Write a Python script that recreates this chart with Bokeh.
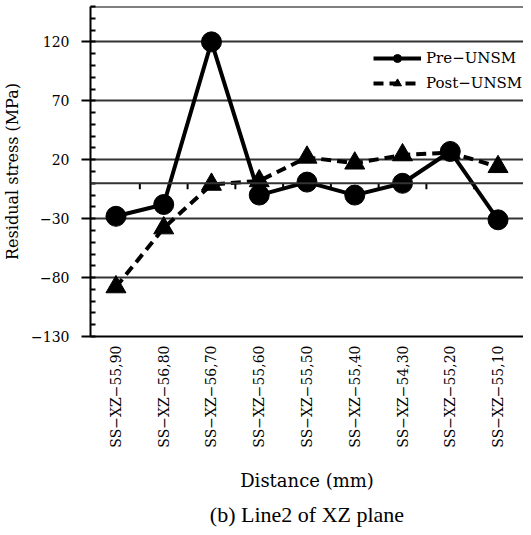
import math
from bokeh.plotting import figure
from bokeh.models import (FactorRange, Range1d, FixedTicker, Span, Legend, LegendItem,
                          Title, ColumnDataSource)
from bokeh.transform import dodge
from bokeh.embed import file_html
from bokeh.resources import INLINE

categories = ["SS\u2212XZ\u221255,90", "SS\u2212XZ\u221256,80", "SS\u2212XZ\u221256,70",
              "SS\u2212XZ\u221255,60", "SS\u2212XZ\u221255,50", "SS\u2212XZ\u221255,40",
              "SS\u2212XZ\u221254,30", "SS\u2212XZ\u221255,20", "SS\u2212XZ\u221255,10"]
pre_unsm = [-28, -18, 120, -10, 1, -10, 0, 27, -31]
post_unsm = [-88, -38, -1, 2, 22, 17, 24, 26, 14]
y_ticks = [-130, -80, -30, 20, 70, 120]
y_tick_labels = ["\u2212130", "\u221280", "\u221230", "20", "70", "120"]
y_min, y_max = -130, 150

SERIF = "DejaVu Serif"

p = figure(width=523, height=532, output_backend="svg", toolbar_location=None,
           x_range=FactorRange(factors=categories, range_padding=0.033,
                               range_padding_units="absolute"),
           y_range=Range1d(y_min, y_max),
           min_border_left=81, min_border_right=0, min_border_top=6,
           min_border_bottom=196)

p.outline_line_color = None
p.background_fill_color = "white"
p.border_fill_color = "white"

# grid
p.xgrid.grid_line_color = None
p.ygrid.grid_line_color = "#333333"
p.ygrid.grid_line_width = 2

# top border
p.add_layout(Span(location=y_max, dimension="width", line_color="black", line_width=2))
# zero line
p.add_layout(Span(location=0, dimension="width", line_color="#333333", line_width=2))

# y axis
ya = p.yaxis[0]
ya.ticker = FixedTicker(ticks=y_ticks, minor_ticks=list(range(y_min, y_max + 1, 10)))
ya.major_label_overrides = {t: l for t, l in zip(y_ticks, y_tick_labels)}
ya.axis_line_color = "black"
ya.axis_line_width = 2
ya.major_tick_line_color = "black"
ya.major_tick_line_width = 2
ya.major_tick_out = 9
ya.major_tick_in = 0
ya.minor_tick_line_color = "black"
ya.minor_tick_line_width = 2
ya.minor_tick_in = 5
ya.minor_tick_out = 0
ya.major_label_standoff = 12
ya.major_label_text_font = SERIF
ya.major_label_text_font_size = "14px"
ya.major_label_text_color = "black"
ya.axis_label = "Residual stress (MPa)"
ya.axis_label_text_font = SERIF
ya.axis_label_text_font_size = "16px"
ya.axis_label_text_font_style = "normal"
ya.axis_label_text_color = "black"
ya.axis_label_standoff = 6

# x axis
xa = p.xaxis[0]
xa.axis_line_color = "black"
xa.axis_line_width = 2
xa.major_tick_line_color = None
xa.major_tick_out = 0
xa.major_tick_in = 0
xa.minor_tick_line_color = None
xa.major_label_orientation = math.pi / 2
xa.major_label_standoff = 9
xa.major_label_text_font = SERIF
xa.major_label_text_font_size = "14px"
xa.major_label_text_color = "black"
xa.axis_label = "Distance (mm)"
xa.axis_label_text_font = SERIF
xa.axis_label_text_font_size = "18px"
xa.axis_label_text_font_style = "normal"
xa.axis_label_text_color = "black"
xa.axis_label_standoff = 19

# tick marks on zero line at category boundaries
bsrc = ColumnDataSource(dict(x=categories[1:], y=[0] * (len(categories) - 1)))
p.ray(x=dodge("x", -0.5, range=p.x_range), y="y", source=bsrc, length=6,
      length_units="screen", angle=-math.pi / 2, line_color="black", line_width=2)

src = ColumnDataSource(dict(x=categories, pre=pre_unsm, post=post_unsm))

l2 = p.line("x", "post", source=src, line_color="black", line_width=4, line_dash="10 6")
s2 = p.scatter("x", "post", source=src, marker="triangle", size=20,
               fill_color="black", line_color="black")
l1 = p.line("x", "pre", source=src, line_color="black", line_width=4)
s1 = p.scatter("x", "pre", source=src, marker="circle", size=20,
               fill_color="black", line_color="black")

legend = Legend(items=[LegendItem(label="Pre\u2212UNSM", renderers=[l1, s1]),
                       LegendItem(label="Post\u2212UNSM", renderers=[l2, s2])],
                location=(283, 243), glyph_width=48, glyph_height=20, spacing=5,
                label_standoff=5, label_text_font=SERIF, label_text_font_size="15px",
                label_text_color="black", background_fill_alpha=0,
                border_line_color=None, padding=0, margin=0)
p.add_layout(legend, "center")

cap = Title(text="(b) Line2 of XZ plane", align="center", text_font="Liberation Serif",
            text_font_size="22px", text_font_style="normal", text_color="black",
            standoff=12)
p.add_layout(cap, "below")

open("out.html", "w").write(file_html(p, INLINE))
